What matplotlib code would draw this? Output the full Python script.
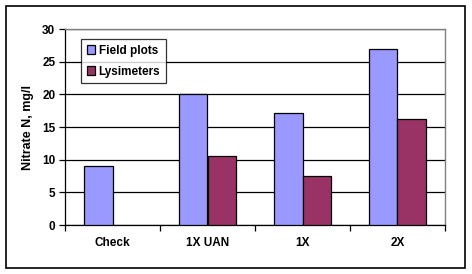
import numpy as np
import matplotlib.pyplot as plt
from matplotlib.patches import Rectangle

# Datos
categories = ['Check', '1X UAN', '1X', '2X']
field_plots = [9.0, 20.0, 17.1, 26.9]
lysimeters = [np.nan, 10.5, 7.5, 16.3]

plt.rcParams['font.family'] = ['Liberation Sans', 'DejaVu Sans']
plt.rcParams['font.weight'] = 'bold'

fig = plt.figure(figsize=(4.72, 2.74), dpi=100)
ax = fig.add_axes([65 / 472, 49 / 274, 380 / 472, 196 / 274])

# Marco exterior
fig.patches.append(Rectangle((6 / 472, 6 / 274), 459 / 472, 262 / 274,
                             transform=fig.transFigure, fill=False,
                             edgecolor='black', linewidth=1.2))

x = np.arange(len(categories))
w = 0.295
ax.bar(x - w / 2, field_plots, w, color='#9999FF', edgecolor='black',
       linewidth=0.9, label='Field plots', zorder=3)
ax.bar(x + w / 2, lysimeters, w, color='#993366', edgecolor='black',
       linewidth=0.9, label='Lysimeters', zorder=3)

ax.set_xlim(-0.5, len(categories) - 0.5)
ax.set_ylim(0, 30)
ax.set_yticks(range(0, 31, 5))
ax.yaxis.grid(True, color='black', linewidth=0.9, zorder=0)

ax.set_xticks(x)
ax.set_xticklabels(categories, fontsize=8.5, fontweight='bold')
ax.set_xticks(np.arange(-0.5, len(categories)), minor=True)
ax.tick_params(axis='x', which='major', length=0, pad=9)
ax.tick_params(axis='x', which='minor', length=4, width=0.9, direction='out')
ax.tick_params(axis='y', labelsize=8.5, length=4, width=0.9, pad=3)
for lab in ax.get_yticklabels():
    lab.set_fontweight('bold')

for s in ['top', 'right']:
    ax.spines[s].set_color('#808080')
    ax.spines[s].set_linewidth(1.0)
for s in ['left', 'bottom']:
    ax.spines[s].set_linewidth(0.9)

ax.set_ylabel('Nitrate N, mg/l', fontsize=9, fontweight='bold', labelpad=6)

leg = ax.legend(loc='upper left', bbox_to_anchor=(0.042, 0.95), fontsize=8.5,
                frameon=True, fancybox=False, edgecolor='black',
                handlelength=0.7, handleheight=0.7, handletextpad=0.3,
                borderpad=0.5, labelspacing=0.75, borderaxespad=0)
leg.get_frame().set_linewidth(0.9)

fig.savefig('out.png', dpi=100)
